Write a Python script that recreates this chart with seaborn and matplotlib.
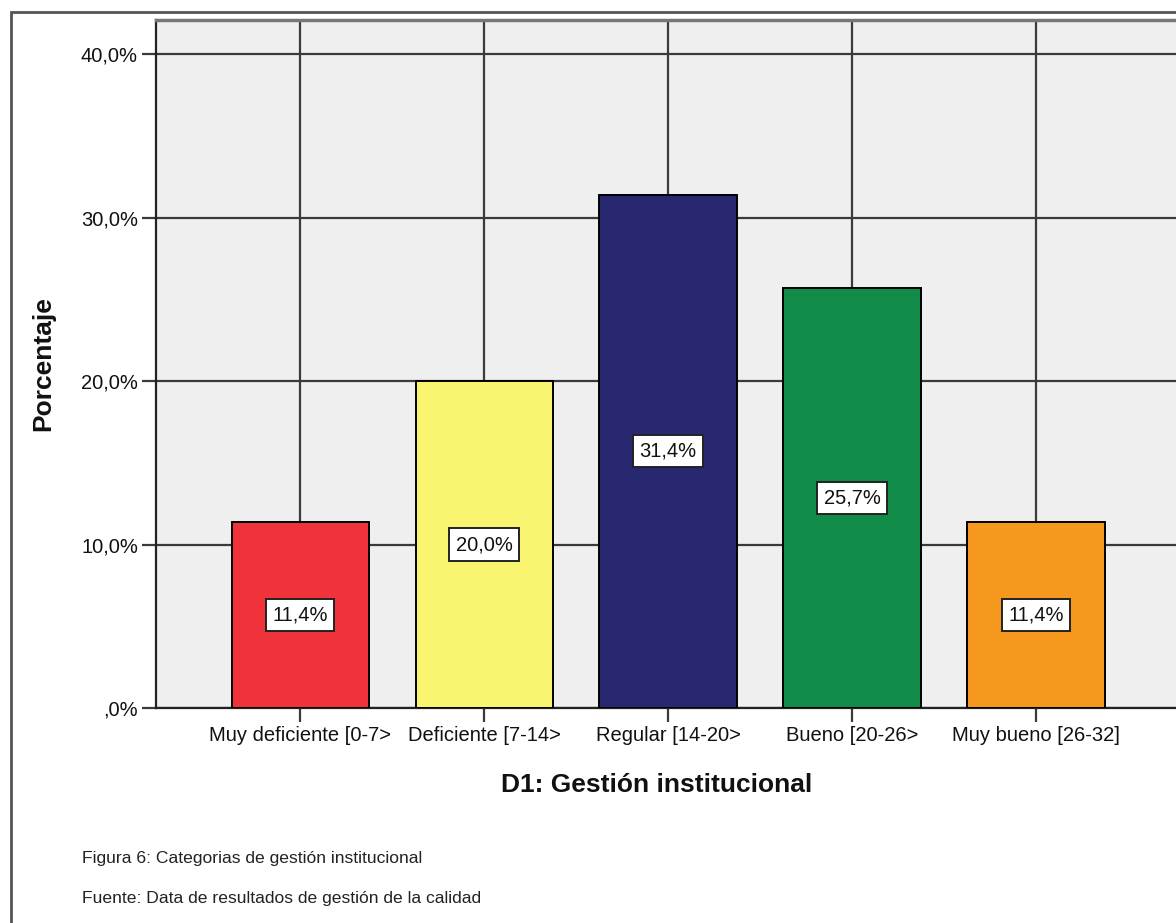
import seaborn as sns
import matplotlib.pyplot as plt
from matplotlib.patches import Rectangle

# Data
categories = ['Muy deficiente [0-7>', 'Deficiente [7-14>', 'Regular [14-20>',
              'Bueno [20-26>', 'Muy bueno [26-32]']
percent = [11.4, 20.0, 31.4, 25.7, 11.4]
bar_labels = ['11,4%', '20,0%', '31,4%', '25,7%', '11,4%']
bar_colors = ['#F0323A', '#FAF571', '#27286F', '#108C48', '#F7981E']
ytick_values = [0, 10, 20, 30, 40]
ytick_labels = [',0%', '10,0%', '20,0%', '30,0%', '40,0%']

sns.set_style('white')
plt.rcParams['font.family'] = ['Liberation Sans', 'DejaVu Sans']
plt.rcParams['text.color'] = '#111111'

fig = plt.figure(figsize=(11.76, 9.23), dpi=100)
ax = fig.add_axes([156 / 1176, 215 / 923, 1020 / 1176, 688 / 923])
ax.set_facecolor('#EFEFEF')

sns.barplot(x=categories, y=percent, hue=categories, palette=bar_colors,
            legend=False, width=0.745, edgecolor='black', linewidth=1.4,
            saturation=1, ax=ax, zorder=3)

# Grid lines like SPSS output
ax.set_axisbelow(True)
ax.grid(True, color='#3a3a3a', linewidth=1.6, zorder=0)

ax.set_ylim(0, 42.08)
ax.set_xlim(-0.783, 4.761)
ax.set_yticks(ytick_values)
ax.set_yticklabels(ytick_labels, fontsize=14.5)
ax.set_xticks(range(len(categories)))
ax.set_xticklabels(categories, fontsize=14.5)
ax.tick_params(axis='both', direction='out', length=10, width=1.6,
               color='#3a3a3a', labelcolor='#111111', left=True, bottom=True, pad=3)

for side in ['left', 'bottom']:
    ax.spines[side].set_color('#222222')
    ax.spines[side].set_linewidth(1.6)
ax.spines['top'].set_color('#777777')
ax.spines['top'].set_linewidth(2.5)
ax.spines['right'].set_visible(False)

# Value boxes in the middle of each bar
for cont, lab in zip(ax.containers, bar_labels):
    ax.bar_label(cont, labels=[lab], label_type='center', fontsize=14.5,
                 bbox=dict(boxstyle='square,pad=0.33', facecolor='white',
                           edgecolor='#222222', linewidth=1.4), zorder=5)

ax.set_xlabel('D1: Gestión institucional', fontsize=19, fontweight='bold', color='#111111')
ax.xaxis.set_label_coords((657 - 156) / 1020, -(773 - 708) / 688)
ax.set_ylabel('Porcentaje', fontsize=19, fontweight='bold', color='#111111')
ax.yaxis.set_label_coords(-(156 - 55) / 1020, 0.5)

# Caption lines
fig.text(82 / 1176, 1 - 859 / 923, 'Figura 6: Categorias de gestión institucional',
         fontsize=12.6, va='center', ha='left', color='#222222')
fig.text(82 / 1176, 1 - 898 / 923, 'Fuente: Data de resultados de gestión de la calidad',
         fontsize=12.6, va='center', ha='left', color='#222222')

# Outer frame of the figure
fig.patches.append(Rectangle((11 / 1176, -0.1), 1.2, 0.1 + (923 - 12) / 923,
                             transform=fig.transFigure, fill=False,
                             edgecolor='#555555', linewidth=2))

plt.savefig('out.png', dpi=100)
